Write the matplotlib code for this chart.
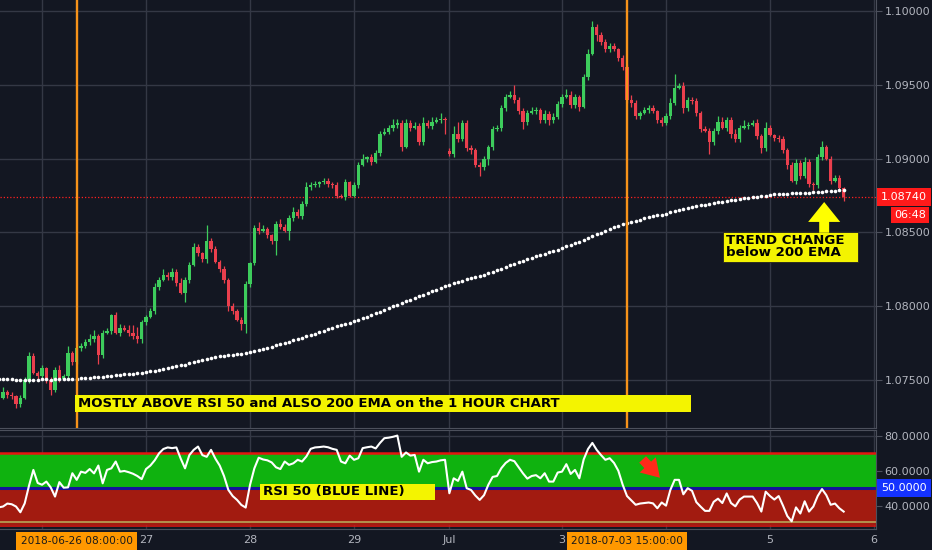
import numpy as np
import matplotlib
matplotlib.use('Agg')
import matplotlib.pyplot as plt
import matplotlib.transforms as mtransforms
from matplotlib.patches import Rectangle, FancyArrow

# colours (dark TradingView look)
BG = '#131722'
GRID = '#343845'
EDGE = '#4c505c'
AXIS_TXT = '#b2b5be'
UP = '#3dcc5c'
DOWN = '#ea3f4d'
YELLOW = '#f4f400'
ORANGE = '#f7931a'

# prices are written in pips above BASE
PIP = 0.0001
BASE = 1.07

first_open_pips = 58
weekend_gap = (104, 205)   # bar index, opening price after the weekend

close_pips = [
    38, 42, 40, 39, 34, 38, 50, 66, 55, 53,
    58, 50, 43, 57, 51, 53, 68, 62, 72, 73,
    76, 78, 80, 67, 82, 83, 94, 82, 85, 84,
    82, 80, 78, 89, 93, 97, 113, 118, 121, 120,
    123, 116, 109, 118, 128, 140, 136, 132, 144, 139,
    130, 125, 118, 100, 97, 91, 88, 115, 129, 153,
    151, 152, 148, 144, 156, 154, 151, 160, 164, 161,
    169, 181, 182, 183, 184, 185, 183, 182, 175, 174,
    184, 175, 182, 196, 200, 201, 198, 204, 217, 218,
    221, 223, 224, 208, 224, 221, 222, 211, 224, 222,
    225, 226, 227, 226, 203, 217, 213, 224, 207, 206,
    196, 194, 200, 208, 220, 221, 234, 242, 243, 240,
    232, 225, 231, 232, 233, 226, 230, 226, 228, 237,
    242, 243, 236, 242, 235, 255, 271, 289, 284, 279,
    274, 276, 274, 268, 262, 240, 238, 229, 231, 233,
    234, 232, 226, 224, 229, 238, 248, 249, 234, 240,
    239, 231, 220, 219, 211, 219, 225, 221, 226, 217,
    213, 221, 222, 223, 224, 215, 207, 221, 216, 214,
    213, 206, 196, 185, 197, 188, 198, 183, 182, 201,
    208, 200, 185, 187, 180, 174,
]

upper_wick = [
    2, 3, 1, 2, 1, 2, 2, 3, 2, 1,
    2, 1, 2, 2, 3, 1, 5, 2, 3, 2,
    2, 3, 4, 1, 2, 2, 1, 2, 3, 2,
    3, 5, 6, 2, 1, 2, 3, 2, 4, 2,
    3, 2, 3, 2, 2, 3, 2, 1, 11, 2,
    2, 1, 2, 1, 2, 1, 2, 2, 1, 2,
    4, 3, 2, 1, 2, 3, 2, 2, 3, 2,
    2, 3, 2, 2, 1, 2, 2, 1, 2, 1,
    2, 1, 2, 2, 3, 1, 2, 2, 2, 3,
    2, 4, 3, 2, 3, 2, 3, 2, 4, 2,
    3, 2, 4, 1, 2, 5, 8, 2, 2, 2,
    1, 2, 2, 1, 2, 2, 2, 2, 3, 7,
    2, 2, 2, 3, 2, 1, 3, 2, 3, 2,
    2, 4, 3, 2, 1, 2, 3, 4, 2, 2,
    2, 2, 2, 1, 2, 2, 3, 2, 1, 2,
    2, 2, 1, 2, 2, 3, 9, 2, 3, 2,
    2, 2, 1, 2, 2, 2, 4, 3, 2, 2,
    3, 2, 4, 2, 2, 3, 2, 4, 2, 1,
    2, 2, 1, 2, 3, 2, 3, 2, 1, 2,
    4, 1, 2, 2, 2, 1,
]

lower_wick = [
    3, 1, 2, 2, 3, 2, 1, 2, 1, 2,
    2, 2, 3, 1, 2, 1, 2, 2, 1, 2,
    1, 2, 2, 6, 2, 1, 2, 1, 2, 1,
    2, 2, 3, 3, 2, 1, 2, 2, 1, 2,
    2, 2, 1, 6, 2, 1, 2, 2, 3, 2,
    1, 2, 2, 3, 2, 1, 4, 6, 2, 1,
    2, 1, 2, 2, 9, 2, 1, 6, 2, 1,
    2, 1, 2, 1, 2, 1, 2, 2, 2, 1,
    2, 1, 1, 2, 1, 2, 2, 1, 2, 1,
    1, 2, 2, 3, 1, 2, 1, 2, 2, 1,
    2, 1, 2, 9, 1, 2, 2, 1, 2, 3,
    2, 6, 2, 4, 2, 1, 2, 2, 1, 2,
    2, 5, 2, 1, 2, 2, 2, 3, 2, 1,
    2, 1, 2, 2, 3, 1, 2, 1, 4, 2,
    2, 2, 1, 2, 2, 2, 3, 2, 2, 1,
    2, 1, 2, 2, 1, 2, 2, 1, 3, 2,
    2, 2, 2, 1, 8, 2, 2, 1, 2, 3,
    2, 2, 1, 2, 1, 2, 3, 2, 1, 2,
    2, 2, 3, 1, 2, 2, 1, 2, 3, 2,
    2, 1, 2, 1, 2, 3,
]

# 200 EMA
ema_pips = [
    50.7, 50.6, 50.5, 50.4, 50.2, 50.1, 50.1, 50.3, 50.3, 50.3,
    50.4, 50.4, 50.3, 50.4, 50.4, 50.4, 50.6, 50.7, 50.9, 51.1,
    51.4, 51.6, 51.9, 52.0, 52.3, 52.6, 53.0, 53.3, 53.6, 53.9,
    54.2, 54.4, 54.7, 55.0, 55.4, 55.8, 56.4, 57.0, 57.6, 58.2,
    58.9, 59.4, 59.9, 60.5, 61.2, 62.0, 62.7, 63.4, 64.2, 64.9,
    65.5, 66.1, 66.6, 66.9, 67.2, 67.5, 67.7, 68.2, 68.8, 69.6,
    70.4, 71.2, 72.0, 72.7, 73.5, 74.3, 75.1, 75.9, 76.8, 77.6,
    78.5, 79.5, 80.5, 81.5, 82.5, 83.5, 84.5, 85.4, 86.3, 87.1,
    88.1, 88.9, 89.8, 90.8, 91.9, 93.0, 94.0, 95.1, 96.3, 97.5,
    98.7, 99.9, 101.1, 102.1, 103.3, 104.5, 105.6, 106.6, 107.8, 108.9,
    110.1, 111.2, 112.4, 113.5, 114.4, 115.4, 116.3, 117.4, 118.3, 119.1,
    119.9, 120.6, 121.4, 122.2, 123.2, 124.2, 125.3, 126.5, 127.6, 128.7,
    129.8, 130.7, 131.7, 132.7, 133.7, 134.6, 135.6, 136.5, 137.4, 138.4,
    139.5, 140.5, 141.5, 142.5, 143.5, 144.6, 145.9, 147.3, 148.6, 149.9,
    151.1, 152.3, 153.5, 154.6, 155.7, 156.5, 157.3, 158.0, 158.7, 159.5,
    160.2, 160.9, 161.5, 162.1, 162.8, 163.5, 164.3, 165.1, 165.8, 166.5,
    167.2, 167.8, 168.4, 168.9, 169.3, 169.8, 170.3, 170.8, 171.3, 171.7,
    172.1, 172.6, 173.0, 173.5, 173.9, 174.3, 174.6, 175.0, 175.4, 175.7,
    176.0, 176.2, 176.3, 176.5, 176.6, 176.8, 176.9, 176.9, 177.1, 177.4,
    177.6, 177.8, 178.0, 178.2, 178.4, 178.5,
]

rsi_values = [
    39.0, 39.5, 41.2, 40.8, 39.5, 36.2, 41.3, 51.5, 60.5, 53.0, 52.0,
    53.8, 50.5, 45.2, 53.5, 50.3, 50.5, 58.6, 54.8, 59.5, 58.8,
    61.0, 58.5, 63.0, 52.8, 60.5, 61.4, 65.3, 59.5, 59.9, 59.2,
    58.3, 57.0, 55.2, 61.0, 63.0, 66.0, 70.0, 72.5, 73.4, 73.0,
    73.4, 67.0, 61.4, 69.0, 72.0, 73.9, 69.0, 68.0, 72.0, 67.0,
    63.0, 57.0, 49.0, 45.5, 43.3, 40.4, 38.9, 51.9, 61.4, 67.5,
    66.5, 66.0, 64.8, 62.0, 61.0, 65.3, 63.4, 64.3, 66.3, 65.3,
    68.2, 72.6, 73.4, 73.6, 73.9, 73.5, 72.6, 72.0, 65.3, 64.3,
    68.7, 66.3, 67.2, 73.0, 73.5, 73.9, 72.8, 76.0, 78.7, 79.0,
    79.5, 80.2, 68.0, 70.5, 68.7, 69.1, 59.5, 66.3, 64.3, 65.0,
    65.3, 66.0, 66.3, 47.1, 55.7, 54.2, 59.5, 50.0, 49.0, 45.8,
    43.3, 46.0, 52.0, 56.5, 57.0, 61.5, 64.5, 66.3, 65.5, 62.0,
    58.5, 55.5, 57.0, 57.5, 55.7, 58.6, 53.8, 53.8, 59.0, 59.5,
    63.8, 58.2, 60.5, 55.7, 66.5, 72.5, 76.0, 72.0, 69.0, 66.3,
    67.2, 64.5, 60.0, 52.0, 45.5, 43.0, 40.5, 41.2, 41.5, 41.8,
    41.3, 38.5, 41.8, 40.0, 49.0, 54.8, 54.8, 46.5, 50.0, 48.5,
    42.0, 39.4, 37.0, 37.0, 42.2, 44.0, 41.5, 47.0, 41.5, 39.6,
    43.5, 45.2, 45.2, 45.2, 41.5, 36.6, 48.0, 45.5, 43.5, 45.5,
    40.0, 34.0, 31.0, 39.0, 35.5, 42.5, 36.6, 39.5, 45.5, 49.5,
    46.0, 40.5, 41.2, 38.5, 36.6,
]

# axis labels (bar index of each day start)
day_ticks = [34, 58, 82, 104, 130, 178, 202]
day_labels = ['27', '28', '29', 'Jul', '3', '5', '6']
day_grid = [10, 34, 58, 82, 104, 130, 154, 178, 202]
price_ticks = [1.075, 1.080, 1.085, 1.090, 1.095, 1.100]
rsi_ticks = [40, 60, 80]
marked_bars = [18, 145]
marked_labels = ['2018-06-26 08:00:00', '2018-07-03 15:00:00']
countdown = '06:48'

# ---- derive OHLC ----
idx = np.arange(len(close_pips))
closes = BASE + np.array(close_pips) * PIP
opens = np.empty_like(closes)
opens[0] = BASE + first_open_pips * PIP
opens[1:] = closes[:-1]
opens[weekend_gap[0]] = BASE + weekend_gap[1] * PIP
body_top = np.maximum(opens, closes)
body_bot = np.minimum(opens, closes)
highs = body_top + np.array(upper_wick) * PIP
lows = body_bot - np.array(lower_wick) * PIP
colors = np.where(closes >= opens, UP, DOWN)
heights = np.maximum(body_top - body_bot, 0.6 * PIP)
ema = BASE + np.array(ema_pips) * PIP
rsi = np.array(rsi_values)

W, H = 932, 550
fig = plt.figure(figsize=(W / 100, H / 100), dpi=100, facecolor=BG)
ax = fig.add_axes([0, 1 - 428 / H, 876 / W, 428 / H], facecolor=BG)
axr = fig.add_axes([0, 1 - 529 / H, 876 / W, 99 / H], facecolor=BG, sharex=ax)

ax.set_xlim(0.3, 202.46)
ax.set_ylim(BASE + 17.5 * PIP, BASE + 307.45 * PIP)
axr.set_ylim(26.6, 83.4)

# grid
for p in price_ticks:
    ax.axhline(p, color=GRID, lw=1, zorder=0)
for d in day_grid:
    ax.axvline(d, color=GRID, lw=1, zorder=0)
    axr.axvline(d, color=GRID, lw=1, zorder=0)
axr.axhline(80, color=GRID, lw=1, zorder=0)

# candles
ax.vlines(idx, lows, highs, colors=colors, lw=0.9, zorder=3)
ax.bar(idx, heights, bottom=body_bot, width=0.74, color=colors, linewidth=0, zorder=3)

# 200 EMA dots
ax.plot(idx, ema, linestyle='none', marker='o', ms=2.6, mfc='white', mec='white',
        mew=0, zorder=4)

# last price line
last = closes[-1]
ax.axhline(last, color='#ff2020', lw=0.9, ls=(0, (1, 1.6)), zorder=2)

for b in marked_bars:
    ax.axvline(b, color=ORANGE, lw=1.7, zorder=4.5)

# annotation boxes on the price pane
ax.add_patch(Rectangle((17.6, BASE + 28.3 * PIP), 142.2, 11.5 * PIP, fc=YELLOW,
                       ec='none', zorder=6))
ax.text(18.4, BASE + 34.2 * PIP, 'MOSTLY ABOVE RSI 50 and ALSO 200 EMA on the 1 HOUR CHART',
        fontsize=9.5, fontweight='bold', color='black', va='center', ha='left', zorder=7)

ax.add_patch(Rectangle((167.2, BASE + 130 * PIP), 31.1, 20.3 * PIP, fc=YELLOW,
                       ec='#202020', lw=0.6, zorder=6))
ax.text(167.9, BASE + 140.3 * PIP, 'TREND CHANGE\nbelow 200 EMA', fontsize=9.6,
        fontweight='bold', color='black', va='center', ha='left', linespacing=0.95,
        zorder=7)
ax.add_patch(FancyArrow(190.5, BASE + 149.8 * PIP, 0, 20.8 * PIP, width=2.3,
                        head_width=7.4, head_length=13.5 * PIP,
                        length_includes_head=True, fc='#ffff00', ec='none', zorder=7))

# RSI pane
axr.axhspan(50, 70, color='#0fb20f', lw=0, zorder=1)
axr.axhspan(28.9, 50, color='#a21b10', lw=0, zorder=1)
axr.axhline(70, color='#e3160f', lw=1.8, zorder=2)
axr.axhline(50, color='#14149a', lw=2.2, zorder=2)
axr.axhline(30.5, color='#b59a52', lw=1.3, zorder=2)
axr.axhline(28.3, color='#e3160f', lw=1.1, zorder=2)
axr.plot(idx, rsi, color='white', lw=1.5, zorder=5)

axr.add_patch(Rectangle((60.3, 43.3), 40.4, 9.1, fc=YELLOW, ec='none', zorder=6))
axr.text(61.0, 47.9, 'RSI 50 (BLUE LINE)', fontsize=9.6, fontweight='bold',
         color='black', va='center', ha='left', zorder=7)
axr.annotate('', xy=(152.6, 56.0), xytext=(148.6, 66.5),
             arrowprops=dict(arrowstyle='simple,head_length=0.8,head_width=1.0,tail_width=0.42',
                             fc='#ff2a1a', ec='none', shrinkA=0, shrinkB=0,
                             mutation_scale=16),
             zorder=7)

# spines / ticks
for a in (ax, axr):
    a.spines['left'].set_visible(False)
    a.spines['top'].set_visible(False)
    a.spines['right'].set_color(EDGE)
    a.spines['bottom'].set_color(EDGE)
    a.yaxis.tick_right()
    a.tick_params(axis='y', colors=AXIS_TXT, labelsize=8, length=4, pad=2)
    a.tick_params(axis='y', which='both', color=EDGE)
axr.spines['top'].set_visible(True)
axr.spines['top'].set_color(EDGE)

ax.set_yticks(price_ticks)
ax.set_yticklabels([f'{p:.5f}' for p in price_ticks])
ax.tick_params(axis='x', length=0, labelbottom=False)

axr.set_yticks(rsi_ticks)
axr.set_yticklabels([f'{v:.4f}' for v in rsi_ticks])
axr.set_xticks(day_ticks)
axr.set_xticklabels(day_labels)
axr.tick_params(axis='x', colors=AXIS_TXT, labelsize=8, length=0, pad=4)

# right-hand value labels
tr_main = mtransforms.blended_transform_factory(ax.transAxes, ax.transData)
ax.annotate(f'{last:.5f}', xy=(1.0, last), xycoords=tr_main, xytext=(5, 0),
            textcoords='offset pixels', ha='left', va='center', fontsize=8,
            color='white', annotation_clip=False,
            bbox=dict(boxstyle='square,pad=0.35', fc='#ff1a1a', ec='none'))
ax.annotate(countdown, xy=(1.0, last), xycoords=tr_main, xytext=(50, -18),
            textcoords='offset pixels', ha='right', va='center', fontsize=8,
            color='white', annotation_clip=False,
            bbox=dict(boxstyle='square,pad=0.25', fc='#ff1a1a', ec='none'))

tr_rsi = mtransforms.blended_transform_factory(axr.transAxes, axr.transData)
axr.annotate('50.0000', xy=(1.0, 50), xycoords=tr_rsi, xytext=(5, 0),
             textcoords='offset pixels', ha='left', va='center', fontsize=8,
             color='white', annotation_clip=False,
             bbox=dict(boxstyle='square,pad=0.35', fc='#1432ff', ec='none'))

# highlighted time labels on the time axis
tr_time = mtransforms.blended_transform_factory(axr.transData, axr.transAxes)
for b, lab in zip(marked_bars, marked_labels):
    axr.annotate(lab, xy=(b, 0), xycoords=tr_time, xytext=(0, -12),
                 textcoords='offset pixels', ha='center', va='center',
                 fontsize=7.6, color='#1a1a1a', annotation_clip=False, zorder=10,
                 bbox=dict(boxstyle='square,pad=0.4', fc='#ff9800', ec='none'))

fig.savefig('out.png', dpi=100, facecolor=BG)
